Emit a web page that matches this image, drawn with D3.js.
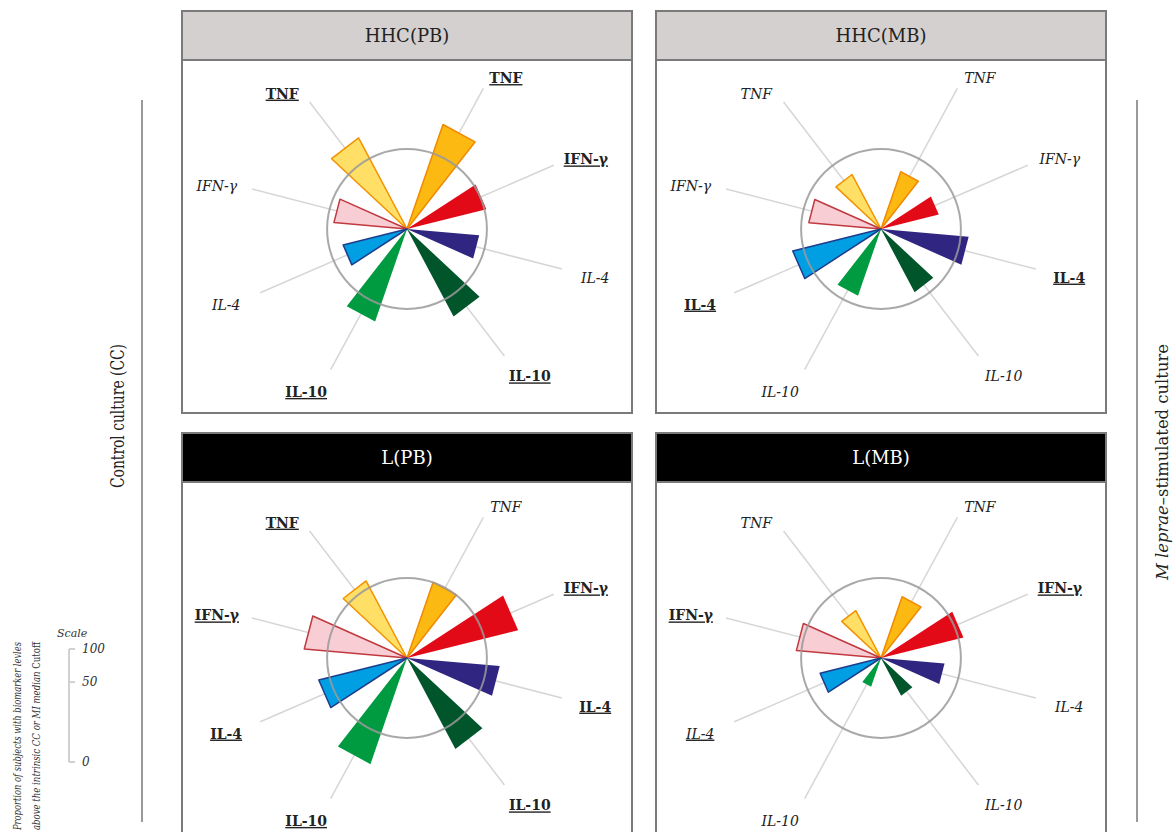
<!DOCTYPE html>
<html>
<head>
<meta charset="utf-8">
<style>
  html, body { margin: 0; padding: 0; background: #fff; }
  svg text { font-family: "DejaVu Serif", serif; }
  .guide { stroke: #d6d6d6; stroke-width: 1.5; }
  .ring { fill: none; stroke: #9a9a9a; stroke-width: 2; }
  .lab { font-size: 14px; fill: #222; }
  .lab.b { font-weight: bold; text-decoration: underline; }
  .lab.i { font-style: italic; }
  .lab.iu { font-style: italic; text-decoration: underline; }
</style>
</head>
<body>
<svg width="1173" height="832"></svg>
<script src="https://d3js.org/d3.v7.min.js"></script>
<script>
// panels (row by row) and cytokines
var panels = ["HHC(PB)", "HHC(MB)", "L(PB)", "L(MB)"];
var cytokines = ["TNF", "IFN-γ", "IL-4", "IL-10"];

// % of subjects above cutoff, control culture (left half) and M. leprae stimulated (right half)
var ccValues = [
  [81, 41, 33, 73],
  [29, 40, 63, 38],
  [58, 81, 63, 96],
  [22, 55, 30, 7]
];
var miValues = [
  [93, 51, 40, 75],
  [28, 27, 59, 39],
  [49, 100, 66, 81],
  [32, 55, 31, 14]
];
// label style: b = bold underlined (significant), i = italic, iu = italic underlined
var ccStyle = [
  ["b", "i", "i", "b"],
  ["i", "i", "b", "i"],
  ["b", "b", "b", "b"],
  ["i", "b", "iu", "i"]
];
var miStyle = [
  ["b", "b", "i", "b"],
  ["i", "i", "b", "i"],
  ["i", "b", "b", "b"],
  ["i", "b", "i", "i"]
];
var scaleTicks = [0, 50, 100];
var ringValue = 50;

var ccFill = ["#ffdf66", "#f8cdd4", "#009fe3", "#009a40"];
var ccStroke = ["#f39200", "#c0393f", "#1e3c8c", "none"];
var miFill = ["#fcb912", "#e30a17", "#302681", "#00552b"];
var miStroke = ["#f08a00", "none", "none", "none"];

var svg = d3.select("svg");

var r = d3.scaleSqrt().domain([0, 100]).range([0, 113]);
var miAngle = d3.scalePoint().domain(cytokines).range([28.5, 142.5]);
var ccAngle = d3.scalePoint().domain(cytokines).range([322.5, 208.5]);
var halfW = 9.5, guideLen = 160;
var rad = Math.PI / 180;

var wedge = d3.lineRadial()
    .angle(function(d) { return d[0] * rad; })
    .radius(function(d) { return d[1]; })
    .curve(d3.curveLinearClosed);

function tri(a, v) {
  var R = r(v) / Math.cos(halfW * rad);
  return wedge([[a, 0], [a - halfW, R], [a + halfW, R]]);
}

var colX = [182, 656], rowY = [11, 433], pw = 450, ph = [402, 420], hh = 49;
var centerY = [229, 658];
var headFill = ["#d3d0cf", "#000"], headText = ["#222", "#fff"];

panels.forEach(function(name, p) {
  var col = p % 2, row = Math.floor(p / 2);
  var x0 = colX[col], y0 = rowY[row];
  var g = svg.append("g");

  g.append("rect").attr("x", x0).attr("y", y0).attr("width", pw).attr("height", ph[row])
    .attr("fill", "#fff").attr("stroke", "#7a7a7a").attr("stroke-width", 2);
  g.append("rect").attr("x", x0).attr("y", y0).attr("width", pw).attr("height", hh)
    .attr("fill", headFill[row]).attr("stroke", "#7a7a7a").attr("stroke-width", 2);
  g.append("text").attr("x", x0 + pw / 2).attr("y", y0 + 31)
    .attr("text-anchor", "middle").attr("font-size", 18).attr("fill", headText[row])
    .text(name);

  var c = g.append("g").attr("transform", "translate(" + (x0 + pw / 2) + "," + centerY[row] + ")");

  var items = [];
  cytokines.forEach(function(k, i) {
    items.push({a: ccAngle(k), v: ccValues[p][i], fill: ccFill[i], stroke: ccStroke[i], name: k, st: ccStyle[p][i]});
    items.push({a: miAngle(k), v: miValues[p][i], fill: miFill[i], stroke: miStroke[i], name: k, st: miStyle[p][i]});
  });

  c.selectAll(".guide").data(items).enter().append("line")
    .attr("class", "guide")
    .attr("x1", 0).attr("y1", 0)
    .attr("x2", function(d) { return guideLen * Math.sin(d.a * rad); })
    .attr("y2", function(d) { return -guideLen * Math.cos(d.a * rad); });

  c.selectAll(".wedge").data(items).enter().append("path")
    .attr("class", "wedge")
    .attr("d", function(d) { return tri(d.a, d.v); })
    .attr("fill", function(d) { return d.fill; })
    .attr("stroke", function(d) { return d.stroke; })
    .attr("stroke-width", 1.5)
    .attr("stroke-linejoin", "round");

  c.append("circle").attr("class", "ring").attr("r", r(ringValue)).attr("opacity", 0.85);

  c.selectAll(".lab").data(items).enter().append("text")
    .attr("class", function(d) { return "lab " + d.st; })
    .attr("text-anchor", "middle")
    .attr("x", function(d) {
      var s = Math.sin(d.a * rad);
      return (guideLen + 22) * s + (s > 0 ? 12 : -14);
    })
    .attr("y", function(d) {
      var cs = Math.cos(d.a * rad);
      return -(guideLen + 22) * cs + 8 + (cs > 0.7 ? 6 : 0);
    })
    .text(function(d) { return d.name; });
});

// side annotations
svg.append("line").attr("x1", 142).attr("x2", 142).attr("y1", 100).attr("y2", 822)
  .attr("stroke", "#999").attr("stroke-width", 2);
svg.append("line").attr("x1", 1137).attr("x2", 1137).attr("y1", 100).attr("y2", 822)
  .attr("stroke", "#999").attr("stroke-width", 2);

svg.append("text").attr("transform", "translate(124,416) rotate(-90)")
  .attr("text-anchor", "middle").attr("font-size", 18).attr("fill", "#222")
  .attr("textLength", 144).attr("lengthAdjust", "spacingAndGlyphs")
  .text("Control culture (CC)");

var rt = svg.append("text").attr("transform", "translate(1168,462) rotate(-90)")
  .attr("text-anchor", "middle").attr("font-size", 17).attr("fill", "#222")
  .attr("textLength", 236).attr("lengthAdjust", "spacingAndGlyphs");
rt.append("tspan").attr("font-style", "italic").text("M leprae");
rt.append("tspan").text("–stimulated culture");

svg.append("text").attr("transform", "translate(21,736) rotate(-90)")
  .attr("text-anchor", "middle").attr("font-size", 11).attr("font-style", "italic").attr("fill", "#333")
  .attr("textLength", 188).attr("lengthAdjust", "spacingAndGlyphs")
  .text("Proportion of  subjects with biomarker levles");
var t2 = svg.append("text").attr("transform", "translate(40,736) rotate(-90)")
  .attr("text-anchor", "middle").attr("font-size", 11).attr("fill", "#333")
  .attr("textLength", 188).attr("lengthAdjust", "spacingAndGlyphs");
t2.append("tspan").attr("font-style", "italic").text("above the intrinsic CC or MI median ");
t2.append("tspan").text("Cutoff");

// scale bar
var sx = 69, sy0 = 762;
svg.append("text").attr("x", 57).attr("y", 637).attr("font-size", 11)
  .attr("font-style", "italic").attr("fill", "#333").text("Scale");
svg.append("line").attr("x1", sx).attr("x2", sx).attr("y1", sy0).attr("y2", sy0 - r(100))
  .attr("stroke", "#d0d0d0").attr("stroke-width", 2);
var tk = svg.selectAll(".stick").data(scaleTicks).enter().append("g")
  .attr("transform", function(d) { return "translate(" + sx + "," + (sy0 - r(d)) + ")"; });
tk.append("line").attr("x1", 0).attr("x2", 6).attr("stroke", "#d0d0d0").attr("stroke-width", 2);
tk.append("text").attr("x", 13).attr("y", 4).attr("font-size", 12).attr("font-style", "italic")
  .attr("fill", "#333").text(function(d) { return d; });
</script>
</body>
</html>
